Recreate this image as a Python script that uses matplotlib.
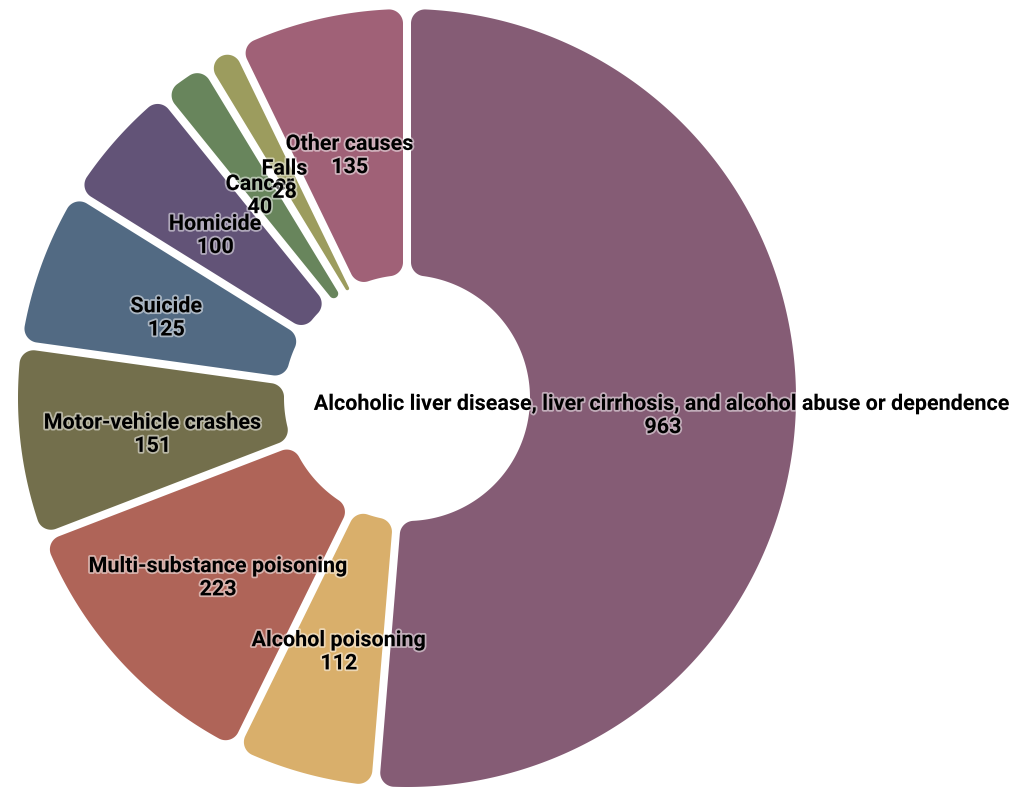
import numpy as np
import matplotlib
matplotlib.use("Agg")
import matplotlib.pyplot as plt
import matplotlib.patheffects as pe

causes = ["Alcoholic liver disease, liver cirrhosis, and alcohol abuse or dependence",
          "Alcohol poisoning", "Multi-substance poisoning", "Motor-vehicle crashes",
          "Suicide", "Homicide", "Cancer", "Falls", "Other causes"]
deaths = [963, 112, 223, 151, 125, 100, 40, 28, 135]
colors = ["#855C75", "#D9AF6B", "#AF6458", "#736F4C", "#526A83",
          "#625377", "#68855C", "#9C9C5E", "#A06177"]

W, H = 1032, 789
cx, cy = 407, 398          # centre of the ring, pixels from top-left
r_out, r_in = 389, 123
pad = 4                    # half the gap between slices
corner = 14


def arc(c, rad, t0, t1, n=48):
    t = np.linspace(t0, t1, n)
    return np.column_stack([c[0] + rad * np.cos(t), c[1] + rad * np.sin(t)])


def unit(a):
    return np.array([np.cos(a), np.sin(a)])


def rounded_sector(lo, hi, r0, r1):
    # annular sector with parallel padding and rounded corners
    half = (hi - lo) / 2
    s = np.sin(half) if half < np.pi / 2 else 1.0
    co = min(corner, (r1 * s - pad) / (1 + s))
    ci = min(corner, (r0 * s - pad) / (1 - s)) if s < 1 else corner
    ci = max(ci, 0.5)
    do = np.arcsin((pad + co) / (r1 - co))
    di = np.arcsin((pad + ci) / (r0 + ci))
    pts = [
        arc((r1 - co) * unit(lo + do), co, lo - np.pi / 2, lo + do),
        arc((0, 0), r1, lo + do, hi - do, 400),
        arc((r1 - co) * unit(hi - do), co, hi - do, hi + np.pi / 2),
        arc((r0 + ci) * unit(hi - di), ci, hi + np.pi / 2, hi - di + np.pi),
        arc((0, 0), r0, hi - di, lo + di, 200),
        arc((r0 + ci) * unit(lo + di), ci, lo + di + np.pi, lo + 1.5 * np.pi),
    ]
    return np.vstack(pts)


fig = plt.figure(figsize=(W / 100, H / 100), dpi=100)
ax = fig.add_axes([0, 0, 1, 1])
ax.set_xlim(-cx, W - cx)
ax.set_ylim(-(H - cy), cy)
ax.axis("off")

total = sum(deaths)
start = 0.0
label_pos = []
for name, val, col in zip(causes, deaths, colors):
    sweep = val / total * 2 * np.pi
    # clockwise from 12 o'clock
    hi = np.pi / 2 - start
    lo = hi - sweep
    poly = rounded_sector(lo, hi, r_in, r_out)
    ax.fill(poly[:, 0], poly[:, 1], color=col, lw=0)
    mid = (lo + hi) / 2
    label_pos.append((r_in + r_out) / 2 * unit(mid))
    start += sweep

halo = [pe.withStroke(linewidth=2.6, foreground="white", alpha=0.5)]
for name, val, p in zip(causes, deaths, label_pos):
    ax.text(p[0], p[1] - 7, f"{name}\n{val}", ha="center", va="center",
            fontsize=15.5, fontweight="bold", family="Roboto", color="black",
            linespacing=1.07, path_effects=halo)

fig.savefig("out.png", dpi=100)
